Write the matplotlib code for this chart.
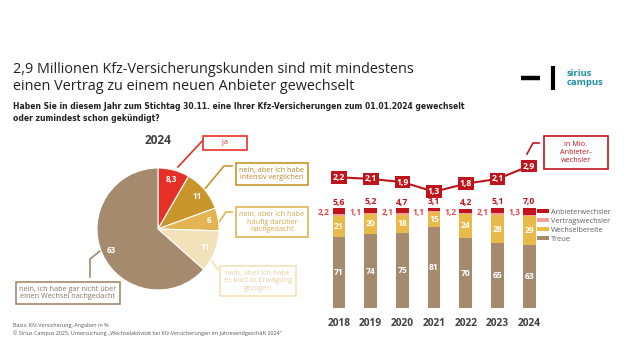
import numpy as np
import matplotlib
matplotlib.use('Agg')
import matplotlib.pyplot as plt
from matplotlib.patches import Rectangle

plt.rcParams['font.family'] = ['Open Sans', 'DejaVu Sans']

W, H = 633, 356

# Daten
pie_labels = ['ja', 'nein, aber ich habe\nintensiv verglichen', 'nein, aber ich habe\nhäufig darüber\nnachgedacht',
              'nein, aber ich habe\nes kurz in Erwägung\ngezogen', 'nein, ich habe gar nicht über\neinen Wechsel nachgedacht']
pie_werte = [8.3, 11, 6, 11, 63]
pie_text = ['8,3', '11', '6', '11', '63']

jahre = ['2018', '2019', '2020', '2021', '2022', '2023', '2024']
treue = [71, 74, 75, 81, 70, 65, 63]
wechselbereite = [21, 20, 18, 15, 24, 28, 29]
vertragswechsler = [2.2, 1.1, 2.1, 1.1, 1.2, 2.1, 1.3]
anbieterwechsler = [5.6, 5.2, 4.7, 3.1, 4.2, 5.1, 7.0]
mio = [2.2, 2.1, 1.9, 1.3, 1.8, 2.1, 2.9]

def fmt(v):
    return ('%.1f' % v).replace('.', ',') if v != int(v) or v < 10 else '%d' % v

# farben
c_pie = ['#e63027', '#c8962a', '#e2b452', '#f3e1b9', '#a68a6d']
c_txt = ['#e63027', '#b8862a', '#d8a84a', '#e6cf9c', '#8a7560']
c_anb = '#c0141c'
c_ver = '#f4a09a'
c_wb = '#e9b949'
c_tr = '#a68a6d'

fig = plt.figure(figsize=(W/100, H/100), dpi=100)

def ax_px(x0, y0, x1, y1):   # pixel rechteck -> axes
    return fig.add_axes([x0/W, 1 - y1/H, (x1-x0)/W, (y1-y0)/H])

bg = fig.add_axes([0, 0, 1, 1])
bg.set_xlim(0, W)
bg.set_ylim(H, 0)
bg.axis('off')

# titel
bg.text(13, 78, '2,9 Millionen Kfz-Versicherungskunden sind mit mindestens\neinen Vertrag zu einem neuen Anbieter gewechselt',
        fontsize=10.4, color='#222222', va='center', ha='left', linespacing=1.2)
bg.text(13, 112.5, 'Haben Sie in diesem Jahr zum Stichtag 30.11. eine Ihrer Kfz-Versicherungen zum 01.01.2024 gewechselt\noder zumindest schon gekündigt?',
        fontsize=5.5, fontweight='bold', color='#222222', va='center', ha='left', linespacing=1.3,
        family=['Liberation Sans Narrow', 'DejaVu Sans'])

# logo
bg.plot([521, 540], [78, 78], color='black', lw=3.2, solid_capstyle='butt')
bg.plot([553, 553], [66, 90], color='black', lw=3.0, solid_capstyle='butt')
bg.text(567, 78, 'sirius\ncampus', color='#1f8fa0', fontsize=6.8, fontweight='bold', va='center', ha='left', linespacing=0.95)

# fusszeile
bg.text(13, 326, 'Basis: Kfz-Versicherung, Angaben in %', fontsize=3.85, color='#555555', va='center')
bg.text(13, 333, '© Sirius Campus 2025, Untersuchung „Wechselaktivität bei Kfz-Versicherungen im Jahresendgeschäft 2024“',
        fontsize=3.85, color='#555555', va='center')

# torte
cx, cy, r = 158, 229, 61
axp = ax_px(cx - r, cy - r, cx + r, cy + r)
wedges, _ = axp.pie(pie_werte, colors=c_pie, startangle=90, counterclock=False, radius=1,
                    wedgeprops=dict(edgecolor='white', linewidth=0.8))
axp.set_xlim(-1, 1)
axp.set_ylim(-1, 1)
for w, t in zip(wedges, pie_text):
    a = np.deg2rad((w.theta1 + w.theta2) / 2)
    d = 0.84
    axp.text(d*np.cos(a), d*np.sin(a), t, color='white', fontsize=5.8, fontweight='bold', ha='center', va='center')
bg.text(158, 141, '2024', fontsize=8.5, fontweight='bold', color='#404040', ha='center', va='center')

# kaestchen mit linien
boxen = [((225, 143), [(204, 139), (178, 167)]),
         ((272, 174), [(232, 166), (224, 166), (204, 190)]),
         ((272, 222), [(232, 212), (226, 212), (219, 222)]),
         ((258, 281), [(218, 270), (213, 262), (206, 259)]),
         ((68, 293), [(90, 277), (90, 259), (100, 251)])]
for (pos, linie), lab, ct, cp in zip(boxen, pie_labels, c_txt, c_pie):
    bg.text(pos[0], pos[1], lab if lab != 'ja' else '        ja        ', fontsize=5.2, color=ct, ha='center',
            va='center', linespacing=1.15,
            bbox=dict(boxstyle='square,pad=0.5', fc='white', ec=cp, lw=1.2))
    xs, ys = zip(*linie)
    bg.plot(xs, ys, color=cp, lw=1.2)

# balken
x = np.arange(len(jahre))
xl = (-0.6, 6.6)
step = 31.7
axb = ax_px(339 + step*xl[0], 208, 339 + step*xl[1], 308)
axb.set_xlim(*xl)
axb.set_ylim(0, 100)
bw = 0.4
b1 = axb.bar(x, treue, bw, color=c_tr, label='Treue')
b2 = axb.bar(x, wechselbereite, bw, bottom=treue, color=c_wb, label='Wechselbereite')
unten3 = np.array(treue) + np.array(wechselbereite)
b3 = axb.bar(x, vertragswechsler, bw, bottom=unten3, color=c_ver, label='Vertragswechsler')
unten4 = unten3 + np.array(vertragswechsler)
b4 = axb.bar(x, anbieterwechsler, bw, bottom=unten4, color=c_anb, label='Anbieterwechsler')
for i in x:
    axb.text(i, treue[i]/2, fmt(treue[i]), color='white', fontsize=6.2, fontweight='bold', ha='center', va='center')
    axb.text(i, treue[i] + wechselbereite[i]/2, fmt(wechselbereite[i]), color='white', fontsize=6.2,
             fontweight='bold', ha='center', va='center')
    axb.text(i, unten4[i] + anbieterwechsler[i] + 1.5, fmt(anbieterwechsler[i]), color=c_anb, fontsize=6.2,
             fontweight='bold', ha='center', va='bottom')
    axb.text(i - 0.48, 96, fmt(vertragswechsler[i]), color='#e0484a', fontsize=6.0,
             fontweight='bold', ha='center', va='center')
axb.set_xticks(x)
axb.set_xticklabels(jahre, fontsize=7.3, fontweight='bold', color='#404040')
axb.tick_params(axis='x', length=0, pad=7)
axb.set_yticks([])
for s in axb.spines.values():
    s.set_visible(False)
axb.patch.set_alpha(0)

leg = axb.legend(handles=[b4, b3, b2, b1], loc='upper left', bbox_to_anchor=(537/W, 1 - 209/H),
                 bbox_transform=fig.transFigure, frameon=False, fontsize=5.3, handlelength=1.6, handleheight=0.5,
                 handletextpad=0.3, labelspacing=0.25, borderpad=0, borderaxespad=0)
for t in leg.get_texts():
    t.set_color('#606060')

# linie
axl = ax_px(339 + step*xl[0], 140, 339 + step*xl[1], 212.5)
axl.set_xlim(*xl)
axl.set_ylim(0, (212.5 - 140) / 16)
axl.plot(x, mio, color=c_anb, lw=1.5)
for i in x:
    axl.text(i, mio[i], fmt(mio[i]), color='white', fontsize=6.2, fontweight='bold', ha='center', va='center',
             bbox=dict(boxstyle='square,pad=0.2', fc=c_anb, ec='none'))
axl.axis('off')

bg.plot([527, 533, 539], [154, 143, 143], color=c_anb, lw=1.2)
bg.add_patch(Rectangle((544, 136), 64, 33, fc='white', ec=c_anb, lw=1.2))
bg.text(576, 152.5, 'in Mio.\nAnbieter-\nwechsler', fontsize=5.2, color=c_anb, ha='center', va='center', linespacing=1.2)

fig.savefig('out.png', dpi=100)
